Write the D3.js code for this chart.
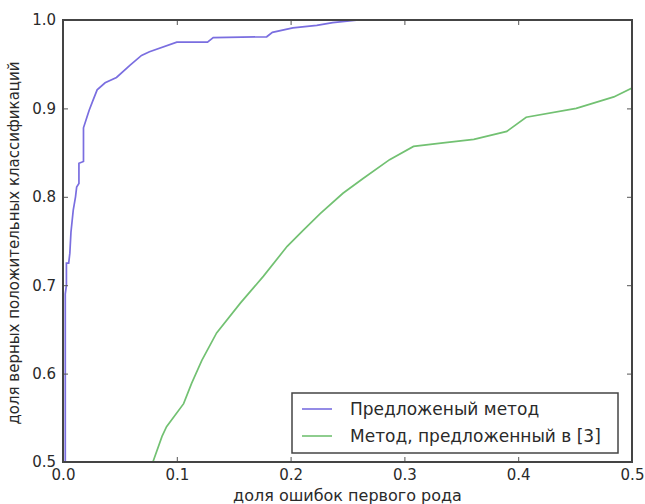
<!DOCTYPE html>
<html>
<head>
<meta charset="utf-8">
<script src="https://cdn.jsdelivr.net/npm/d3@7"></script>
<style>
  body { margin: 0; background: #fff; }
  text { font-family: "DejaVu Sans", sans-serif; fill: #2a2a2a; }
</style>
</head>
<body>
<div class="chart-container"></div>
<script>
var w = 645;
var h = 504;

// ROC curves
var proposed = [
  [0.002, 0.5], [0.002, 0.69], [0.003, 0.70], [0.003, 0.725], [0.005, 0.725],
  [0.006, 0.736], [0.007, 0.76], [0.009, 0.785], [0.011, 0.80], [0.012, 0.811],
  [0.014, 0.815], [0.014, 0.838], [0.018, 0.84], [0.018, 0.878], [0.021, 0.89],
  [0.023, 0.898], [0.026, 0.908], [0.030, 0.921], [0.037, 0.929], [0.047, 0.935],
  [0.059, 0.949], [0.069, 0.960], [0.076, 0.964], [0.100, 0.975], [0.127, 0.975],
  [0.132, 0.980], [0.179, 0.981], [0.184, 0.986], [0.202, 0.991], [0.223, 0.994],
  [0.237, 0.997], [0.26, 1.0], [0.5, 1.0]
];
var reference3 = [
  [0.079, 0.5], [0.087, 0.529], [0.091, 0.540], [0.106, 0.566], [0.113, 0.589],
  [0.122, 0.615], [0.135, 0.646], [0.156, 0.680], [0.176, 0.710], [0.197, 0.744],
  [0.211, 0.762], [0.226, 0.781], [0.246, 0.804], [0.264, 0.821], [0.287, 0.842],
  [0.308, 0.857], [0.334, 0.861], [0.361, 0.865], [0.390, 0.874], [0.407, 0.890],
  [0.451, 0.900], [0.484, 0.913], [0.5, 0.923]
];
var xTicks = [0.0, 0.1, 0.2, 0.3, 0.4, 0.5];
var yTicks = [0.5, 0.6, 0.7, 0.8, 0.9, 1.0];
var seriesNames = ["Предложеный метод", "Метод, предложенный в [3]"];
var seriesColors = ["#7a6ee0", "#72c172"];

var margin = {left: 63, right: 13, top: 20, bottom: 42};

var svg = d3.select(".chart-container")
  .append("svg")
  .attr("width", w)
  .attr("height", h);

var x = d3.scaleLinear().domain([0, 0.5]).range([margin.left, w - margin.right]);
var y = d3.scaleLinear().domain([0.5, 1.0]).range([h - margin.bottom, margin.top]);

svg.append("clipPath").attr("id", "clip")
  .append("rect")
  .attr("x", x(0)).attr("y", y(1))
  .attr("width", x(0.5) - x(0)).attr("height", y(0.5) - y(1));

var line = d3.line()
  .x(function(d) { return x(d[0]); })
  .y(function(d) { return y(d[1]); });

var plot = svg.append("g").attr("clip-path", "url(#clip)");
[proposed, reference3].forEach(function(s, i) {
  plot.append("path")
    .datum(s)
    .attr("d", line)
    .attr("fill", "none")
    .attr("stroke", seriesColors[i])
    .attr("stroke-width", 1.7);
});

// axes, ticks inside like the old matplotlib style
var tickLen = 5;
var axisStyle = function(g) {
  g.select(".domain").remove();
  g.selectAll(".tick line").attr("stroke", "#555");
  g.selectAll(".tick text").style("font-size", "15px").attr("fill", "#2a2a2a");
};
svg.append("g")
  .attr("transform", "translate(0," + y(0.5) + ")")
  .call(d3.axisBottom(x).tickValues(xTicks).tickFormat(d3.format(".1f"))
    .tickSizeInner(-tickLen).tickPadding(7))
  .call(axisStyle);
svg.append("g")
  .attr("transform", "translate(0," + y(1) + ")")
  .call(d3.axisTop(x).tickValues(xTicks).tickFormat("").tickSizeInner(-tickLen))
  .call(axisStyle);
svg.append("g")
  .attr("transform", "translate(" + x(0) + ",0)")
  .call(d3.axisLeft(y).tickValues(yTicks).tickFormat(d3.format(".1f"))
    .tickSizeInner(-tickLen).tickPadding(7))
  .call(axisStyle);
svg.append("g")
  .attr("transform", "translate(" + x(0.5) + ",0)")
  .call(d3.axisRight(y).tickValues(yTicks).tickFormat("").tickSizeInner(-tickLen))
  .call(axisStyle);

// frame
svg.append("rect")
  .attr("x", x(0)).attr("y", y(1))
  .attr("width", x(0.5) - x(0)).attr("height", y(0.5) - y(1))
  .attr("fill", "none")
  .attr("stroke", "#444")
  .attr("stroke-width", 2);

// axis labels
svg.append("text")
  .attr("x", (x(0) + x(0.5)) / 2)
  .attr("y", h - 3)
  .attr("text-anchor", "middle")
  .style("font-size", "16px")
  .text("доля ошибок первого рода");
svg.append("text")
  .attr("transform", "translate(19," + ((y(0.5) + y(1)) / 2 + 2) + ") rotate(-90)")
  .attr("text-anchor", "middle")
  .style("font-size", "15px")
  .text("доля верных положительных классификаций");

// legend
var legend = svg.append("g").attr("transform", "translate(292,393)");
legend.append("rect")
  .attr("width", 326).attr("height", 60)
  .attr("fill", "#fff")
  .attr("stroke", "#444")
  .attr("stroke-width", 1.5);
seriesNames.forEach(function(name, i) {
  var ly = 16 + i * 27;
  legend.append("line")
    .attr("x1", 10).attr("x2", 40)
    .attr("y1", ly).attr("y2", ly)
    .attr("stroke", seriesColors[i])
    .attr("stroke-width", 1.6);
  legend.append("text")
    .attr("x", 58).attr("y", ly + 6)
    .style("font-size", "17px")
    .text(name);
});
</script>
</body>
</html>
